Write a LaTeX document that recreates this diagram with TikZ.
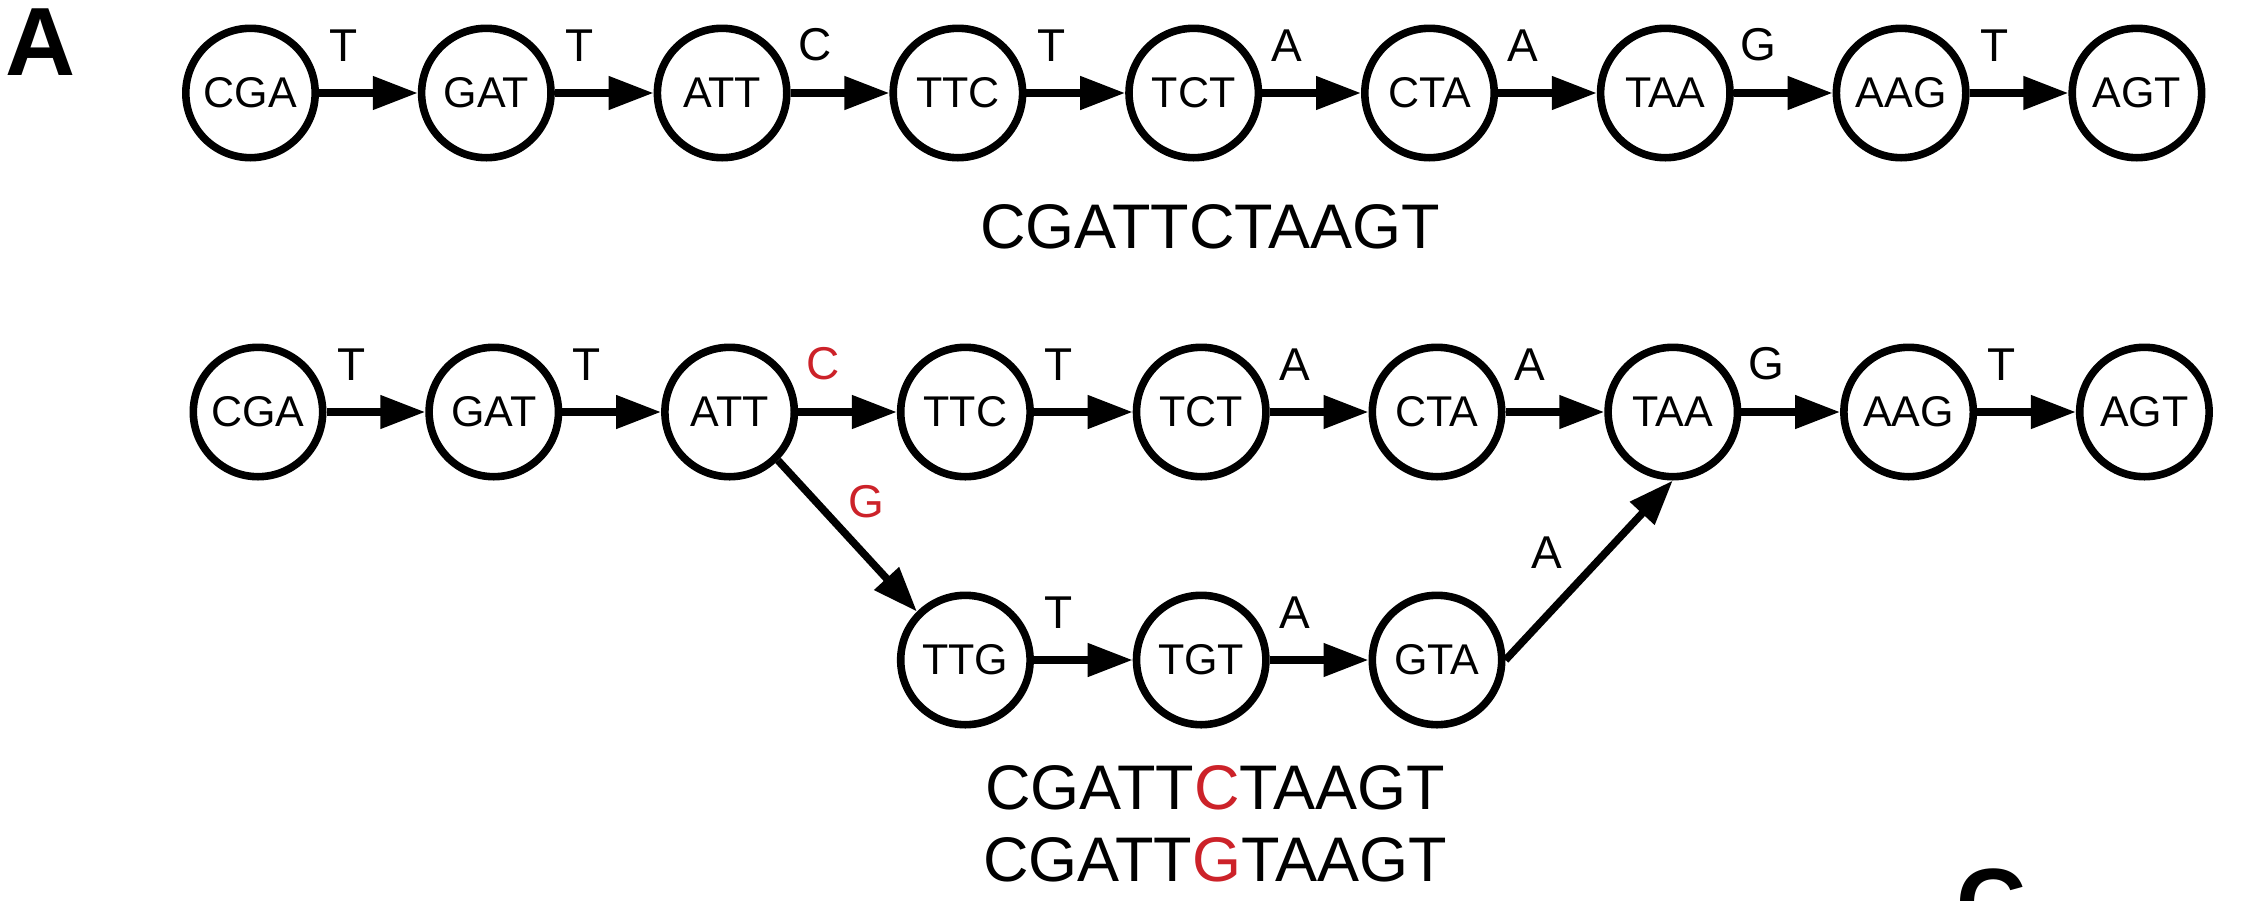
\documentclass[tikz,border=0pt]{standalone}
\usepackage{fontspec}
\setmainfont{Liberation Sans}
\usepackage{tikz}
\usetikzlibrary{arrows.meta,positioning}
\definecolor{snpred}{RGB}{204,34,41}

\begin{document}
\begin{tikzpicture}
              [x=0.5pt,y=-0.5pt,node distance=117.9pt,
                kmer/.style={circle,draw,line width=3.8pt,minimum size=64.7pt,inner sep=0pt,font=\fontsize{21.5}{26}\selectfont},
                base/.style={draw=none,fill=none,inner sep=0pt,pos=0.25,above=14pt,font=\fontsize{23}{28}\selectfont},
                edge/.style={line width=3.8pt,-{Triangle[length=22.5pt,width=16pt]}},
                word/.style={draw=none,fill=none,inner sep=0pt,font=\fontsize{31.5}{38}\selectfont},
                panel/.style={inner sep=0pt,font=\fontsize{48.5}{58}\selectfont\bfseries}]
              \useasboundingbox (0,0) rectangle (2247,900);
              \node[panel] (pa) at (41,42) {A};
              \node[panel] (pc) at (1991,903) {C};
              % reference path
              \node[kmer] (n0) at (250.5,93) {CGA};
              \node[kmer] (n1) [right of=n0] {GAT};
              \node[kmer] (n2) [right of=n1] {ATT};
              \node[kmer] (n3) [right of=n2] {TTC};
              \node[kmer] (n4) [right of=n3] {TCT};
              \node[kmer] (n5) [right of=n4] {CTA};
              \node[kmer] (n6) [right of=n5] {TAA};
              \node[kmer] (n7) [right of=n6] {AAG};
              \node[kmer] (n8) [right of=n7] {AGT};
              \foreach \from/\to/\b in {n0/n1/T,n1/n2/T,n2/n3/C,n3/n4/T,n4/n5/A,n5/n6/A,n6/n7/G,n7/n8/T}
              \draw[edge] (\from) -- node[base] {\b} (\to);
              \node[word] (s0) at (1210,227) {CGATTCTAAGT};
              % graph with a bubble
              \node[kmer] (m0) at (258,412) {CGA};
              \node[kmer] (m1) [right of=m0] {GAT};
              \node[kmer] (m2) [right of=m1] {ATT};
              \node[kmer] (m3) [right of=m2] {TTC};
              \node[kmer] (m4) [right of=m3] {TCT};
              \node[kmer] (m5) [right of=m4] {CTA};
              \node[kmer] (m6) [right of=m5] {TAA};
              \node[kmer] (m7) [right of=m6] {AAG};
              \node[kmer] (m8) [right of=m7] {AGT};
              \node[kmer] (b0) [node distance=124pt,below of=m3] {TTG};
              \node[kmer] (b1) [right of=b0] {TGT};
              \node[kmer] (b2) [right of=b1] {GTA};
              \foreach \from/\to/\b in {m0/m1/T,m1/m2/T,m2/m3/{\textcolor{snpred}{C}},m3/m4/T,m4/m5/A,m5/m6/A,m6/m7/G,m7/m8/T,b0/b1/T,b1/b2/A}
              \draw[edge] (\from) -- node[base] {\b} (\to);
              \draw[edge] (m2.south east) -- node[base,above=0pt,anchor=center,pos=0.44,xshift=13.7pt,yshift=12.5pt,text=snpred] {G} (b0.north west);
              \draw[edge] (b2.east) -- node[base,above=0pt,anchor=center,pos=0.43,xshift=-15.5pt,yshift=14.9pt] {A} (m6.south);
              \node[word] (s1) at (1215,788) {CGATT\textcolor{snpred}{C}TAAGT};
              \node[word] (s2) at (1215,860) {CGATT\textcolor{snpred}{G}TAAGT};
            \end{tikzpicture}
\end{document}
